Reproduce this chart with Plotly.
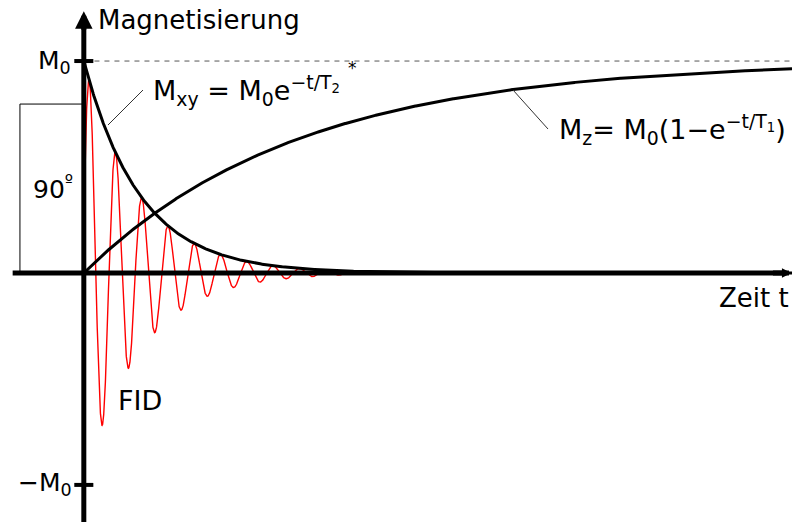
import numpy as np
import plotly.graph_objects as go

# Relaxation parameters (time in units of T2*)
M0 = 1.0
T2_star = 1.0
T1 = 3.82
larmor_freq = 2.13       # FID oscillation, cycles per time unit
fid_phase_t = 0.097      # time of first FID maximum
fid_end = 4.6
t_end = 12.64

# Plot window in data units
x_range = [-1.496, 12.64]
y_range = [-1.175, 1.288]

W, H = 792, 522


def px(x):
    """horizontal pixel -> paper coordinate"""
    return x / W


def py(y):
    """vertical pixel -> paper coordinate"""
    return 1 - y / H


t = np.linspace(0, t_end, 1500)
mxy = M0 * np.exp(-t / T2_star)
mz = M0 * (1 - np.exp(-t / T1))

t_fid = np.linspace(0, fid_end, 3000)
fid = M0 * np.exp(-t_fid / T2_star) * np.cos(2 * np.pi * larmor_freq * (t_fid - fid_phase_t))

fig = go.Figure()

fig.add_trace(go.Scatter(x=t_fid, y=fid, mode="lines",
                         line=dict(color="#ff0000", width=1.4), hoverinfo="skip"))
fig.add_trace(go.Scatter(x=t, y=mxy, mode="lines",
                         line=dict(color="black", width=3), hoverinfo="skip"))
fig.add_trace(go.Scatter(x=t, y=mz, mode="lines",
                         line=dict(color="black", width=3), hoverinfo="skip"))

shapes = []
# M0 level (dashed)
shapes.append(dict(type="line", x0=0.19, x1=x_range[1], y0=M0, y1=M0,
                   line=dict(color="#555555", width=1, dash="5px,5px")))
# 90 degree pulse
pulse_start = -1.14
pulse_height = 0.797
shapes.append(dict(type="path",
                   path=f"M 0,{pulse_height} L {pulse_start},{pulse_height} L {pulse_start},0",
                   line=dict(color="black", width=1)))
# axes
shapes.append(dict(type="line", x0=-1.27, x1=12.5, y0=0, y1=0,
                   line=dict(color="black", width=5)))
shapes.append(dict(type="line", x0=0, x1=0, y0=y_range[0], y1=1.17,
                   line=dict(color="black", width=5)))
# ticks at +M0 / -M0
for yv in (M0, -M0):
    shapes.append(dict(type="line", x0=-0.17, x1=0.17, y0=yv, y1=yv,
                       line=dict(color="black", width=4)))
# leader lines for the formulas
shapes.append(dict(type="line", xref="paper", yref="paper",
                   x0=px(108), y0=py(125), x1=px(143), y1=py(90),
                   line=dict(color="#333333", width=1)))
shapes.append(dict(type="line", xref="paper", yref="paper",
                   x0=px(513), y0=py(90), x1=px(548), y1=py(129),
                   line=dict(color="#333333", width=1)))

font = "DejaVu Sans, Verdana, sans-serif"
annotations = [
    # axis arrowheads
    dict(x=0, y=1.235, ax=0, ay=20, xref="x", yref="y", showarrow=True,
         arrowhead=2, arrowsize=0.7, arrowwidth=5, arrowcolor="black", text=""),
    dict(x=12.63, y=0, ax=-20, ay=0, xref="x", yref="y", showarrow=True,
         arrowhead=2, arrowsize=0.38, arrowwidth=5, arrowcolor="black", text=""),
    dict(x=px(96), y=py(20), xref="paper", yref="paper", text="Magnetisierung",
         xanchor="left", yanchor="middle", showarrow=False, font=dict(size=26)),
    dict(x=px(73), y=py(62), xref="paper", yref="paper", text="M<sub>0</sub>",
         xanchor="right", yanchor="middle", showarrow=False, font=dict(size=25)),
    dict(x=px(74), y=py(484), xref="paper", yref="paper", text="\u2212M<sub>0</sub>",
         xanchor="right", yanchor="middle", showarrow=False, font=dict(size=25)),
    dict(x=px(151), y=py(90), xref="paper", yref="paper",
         text="M<sub>xy</sub> = M<sub>0</sub>e<sup>\u2212t/T<sub>2</sub></sup>",
         xanchor="left", yanchor="middle", showarrow=False, font=dict(size=27)),
    dict(x=px(352), y=py(68), xref="paper", yref="paper", text="*",
         xanchor="center", yanchor="middle", showarrow=False, font=dict(size=17)),
    dict(x=px(557), y=py(129), xref="paper", yref="paper",
         text="M<sub>z</sub>= M<sub>0</sub>(1\u2212e<sup>\u2212t/T<sub>1</sub></sup>)",
         xanchor="left", yanchor="middle", showarrow=False, font=dict(size=27)),
    dict(x=px(791), y=py(298), xref="paper", yref="paper", text="Zeit t",
         xanchor="right", yanchor="middle", showarrow=False, font=dict(size=26)),
    dict(x=px(116), y=py(400), xref="paper", yref="paper", text="FID",
         xanchor="left", yanchor="middle", showarrow=False, font=dict(size=27)),
    dict(x=px(31), y=py(188), xref="paper", yref="paper", text="90<sup>\u00ba</sup>",
         xanchor="left", yanchor="middle", showarrow=False, font=dict(size=25)),
]

fig.update_layout(
    width=W, height=H,
    margin=dict(l=0, r=0, t=0, b=0),
    paper_bgcolor="white", plot_bgcolor="white",
    showlegend=False,
    font=dict(family=font, color="black"),
    xaxis=dict(range=x_range, visible=False, fixedrange=True),
    yaxis=dict(range=y_range, visible=False, fixedrange=True),
    shapes=shapes,
    annotations=annotations,
)

fig.write_html("out.html")
